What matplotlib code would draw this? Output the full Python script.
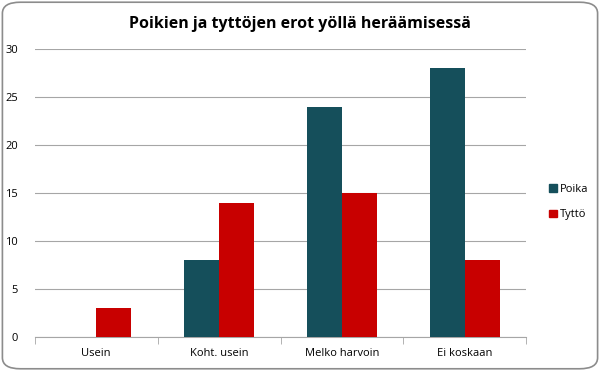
import numpy as np
import matplotlib.pyplot as plt
from matplotlib.patches import FancyBboxPatch, Patch

categories = ['Usein', 'Koht. usein', 'Melko harvoin', 'Ei koskaan']
poika = [0, 8, 24, 28]
tytto = [3, 14, 15, 8]
yticks = [0, 5, 10, 15, 20, 25, 30]

teal = '#154F5B'
red = '#C80000'
grid = '#a6a6a6'

plt.rcParams['font.family'] = ['Open Sans', 'DejaVu Sans']

fig = plt.figure(figsize=(6, 3.71), dpi=100)
ax = fig.add_axes([0.058, 0.092, 0.819, 0.776])

x = np.arange(len(categories))
w = 0.285
ax.bar(x - w / 2, poika, w, color=teal, zorder=3)
ax.bar(x + w / 2, tytto, w, color=red, zorder=3)

ax.set_xlim(-0.5, len(categories) - 0.5)
ax.set_ylim(0, 30)
ax.set_yticks(yticks)
ax.yaxis.grid(True, color=grid, linewidth=0.8, zorder=0)
ax.tick_params(axis='y', length=0, labelsize=8, pad=12)
ax.set_xticks(x)
ax.set_xticklabels(categories, fontsize=8)
ax.tick_params(axis='x', length=0, pad=8)
ax.set_xticks(np.arange(len(categories) + 1) - 0.5, minor=True)
ax.tick_params(axis='x', which='minor', length=5, color=grid, direction='out')
for s in ['top', 'right', 'left']:
    ax.spines[s].set_visible(False)
ax.spines['bottom'].set_color(grid)
ax.spines['bottom'].set_linewidth(0.8)

fig.text(0.5, 0.935, 'Poikien ja tyttöjen erot yöllä heräämisessä',
         ha='center', va='center', fontsize=11.5, fontweight='bold')

handles = [Patch(color=teal), Patch(color=red)]
fig.legend(handles, ['Poika', 'Tyttö'], loc='center left', bbox_to_anchor=(0.898, 0.455),
           frameon=False, fontsize=8, handlelength=0.7, handleheight=0.7,
           handletextpad=0.3, labelspacing=1.3)

border = FancyBboxPatch((0.004, 0.006), 0.992, 0.988, boxstyle='round,pad=0,rounding_size=0.03',
                        transform=fig.transFigure, fill=False, edgecolor='#8c8c8c', linewidth=1.2)
fig.patches.append(border)

fig.savefig('out.png', dpi=100)
